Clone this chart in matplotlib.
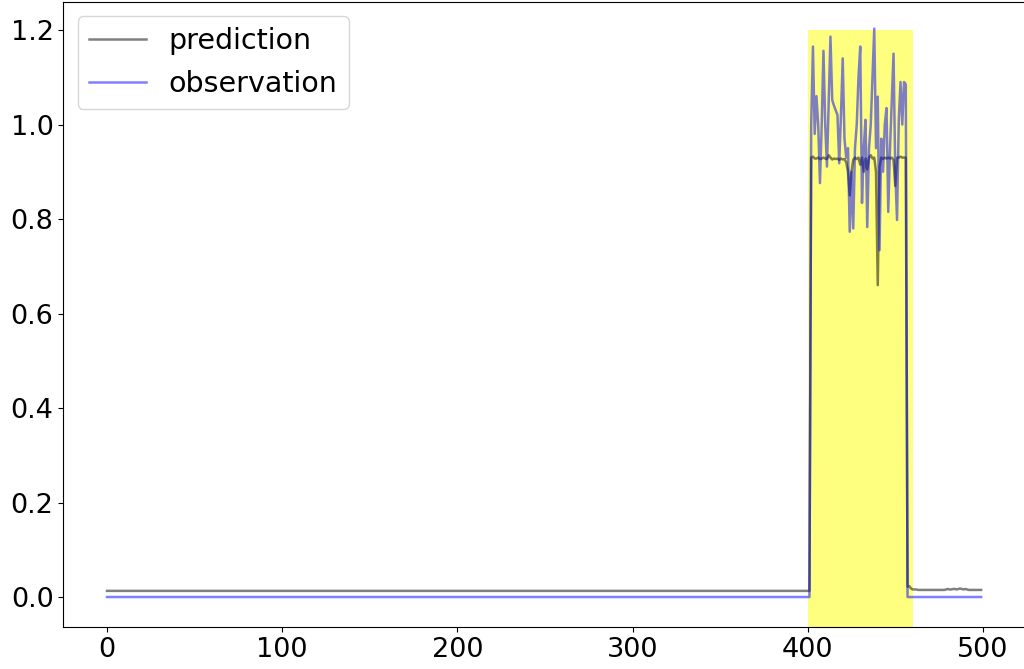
import numpy as np
import matplotlib
matplotlib.use("Agg")
import matplotlib.pyplot as plt

# ---- data ----
n_points = 500
span_start, span_end = 400, 460
span_top = 1.2

pred_base_level = 0.013          # indices 0..401
obs_base_level = 0.0             # indices 0..401 and 457..499

# prediction, indices 402..456
pred_spike = [0.93, 0.932, 0.928, 0.928, 0.93, 0.927, 0.928, 0.93, 0.928, 0.927,
              0.935, 0.93, 0.926, 0.928, 0.927, 0.928, 0.925, 0.928, 0.926, 0.927,
              0.92, 0.9, 0.85, 0.9, 0.925, 0.93, 0.927, 0.93, 0.915, 0.93,
              0.9, 0.928, 0.905, 0.93, 0.935, 0.928, 0.93, 0.9, 0.66, 0.91,
              0.93, 0.927, 0.93, 0.928, 0.93, 0.928, 0.93, 0.925, 0.87, 0.93,
              0.93, 0.932, 0.93, 0.93, 0.93]
# prediction, indices 457..499
pred_tail = [0.022, 0.023, 0.018, 0.016, 0.016, 0.016, 0.015, 0.015, 0.015, 0.015,
             0.015, 0.015, 0.015, 0.015, 0.015, 0.015, 0.015, 0.015, 0.015, 0.015,
             0.015, 0.015, 0.016, 0.017, 0.016, 0.016, 0.017, 0.017, 0.016, 0.017,
             0.018, 0.017, 0.016, 0.017, 0.016, 0.015, 0.015, 0.015, 0.015, 0.015,
             0.015, 0.015, 0.015]

# observation, indices 402..456
obs_spike = [1.0, 1.165, 0.98, 1.06, 1.0, 0.876, 1.0, 1.156, 1.0, 0.911,
             1.05, 1.186, 1.052, 1.04, 1.03, 1.02, 0.918, 1.02, 1.14, 0.97,
             0.93, 0.95, 0.773, 0.9, 0.78, 0.95, 1.0, 1.1, 1.165, 0.834,
             0.95, 1.01, 0.783, 0.95, 1.0, 1.1, 1.203, 0.95, 1.059, 0.734,
             0.97, 0.9, 1.0, 1.035, 0.815, 0.95, 1.05, 1.15, 0.9, 0.798,
             1.01, 1.09, 1.0, 1.09, 1.085]

# ---- assemble series ----
x = np.arange(n_points)
prediction = np.array([pred_base_level] * 402 + pred_spike + pred_tail)
observation = np.array([obs_base_level] * 402 + obs_spike + [obs_base_level] * 43)

fs_tick = 19.5
fs_leg = 20.5
fig = plt.figure(figsize=(10.24, 6.69), dpi=100)
# right spine falls just outside the canvas, as in the reference
ax = fig.add_axes([0.0618, 0.0631, 0.939, 0.9344])

ylo, yhi = -0.063, 1.26
ax.axvspan(span_start, span_end, ymin=0, ymax=(span_top - ylo) / (yhi - ylo),
           color="yellow", alpha=0.5, lw=0, zorder=1)
ax.plot(x, prediction, color="k", alpha=0.5, lw=1.8, label="prediction", zorder=2)
ax.plot(x, observation, color="b", alpha=0.5, lw=1.8, label="observation", zorder=3)

ax.set_xlim(-24.95, 523.95)
ax.set_ylim(ylo, yhi)
ax.set_xticks([0, 100, 200, 300, 400, 500])
ax.set_yticks([0.0, 0.2, 0.4, 0.6, 0.8, 1.0, 1.2])
ax.tick_params(labelsize=fs_tick)
ax.legend(loc="upper left", fontsize=fs_leg)

fig.savefig("out.png", dpi=100)
